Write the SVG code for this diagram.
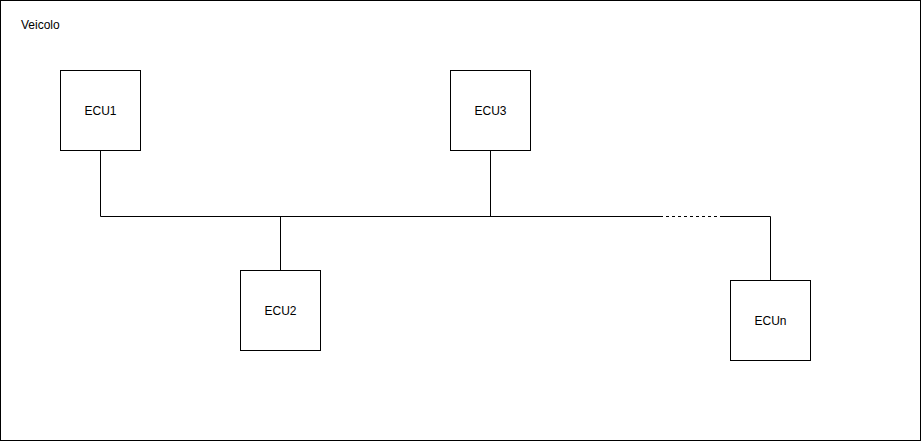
<svg xmlns="http://www.w3.org/2000/svg" width="921" height="441" viewBox="0 0 921 441">
<style>
.box{fill:#ffffff;stroke:#000000;stroke-width:1}
.lbl{font-family:"Liberation Sans",Arial,sans-serif;font-size:12px;fill:#000000}
.c{text-anchor:middle;dominant-baseline:central}
.wire{fill:none;stroke:#000000;stroke-width:1}
</style>
<g id="veicolo">
<rect class="box" x="0.5" y="0.5" width="920" height="440"/>
<text class="lbl" x="21" y="29">Veicolo</text>
</g>
<g id="connectors">
<path class="wire" d="M100.5 150.5 V216.5 H660"/>
<path class="wire" d="M280.5 216.5 V270.5"/>
<path class="wire" d="M490.5 150.5 V216.5"/>
<path class="wire" d="M660 216.5 H720" stroke-dasharray="3 3"/>
<path class="wire" d="M720 216.5 H770.5 V280.5"/>
</g>
<g id="ecu1">
<rect class="box" x="60.5" y="70.5" width="80" height="80"/>
<text class="lbl c" x="100.5" y="110.5">ECU1</text>
</g>
<g id="ecu3">
<rect class="box" x="450.5" y="70.5" width="80" height="80"/>
<text class="lbl c" x="490.5" y="110.5">ECU3</text>
</g>
<g id="ecu2">
<rect class="box" x="240.5" y="270.5" width="80" height="80"/>
<text class="lbl c" x="280.5" y="310.5">ECU2</text>
</g>
<g id="ecun">
<rect class="box" x="730.5" y="280.5" width="80" height="80"/>
<text class="lbl c" x="770.5" y="320.5">ECUn</text>
</g>
</svg>
